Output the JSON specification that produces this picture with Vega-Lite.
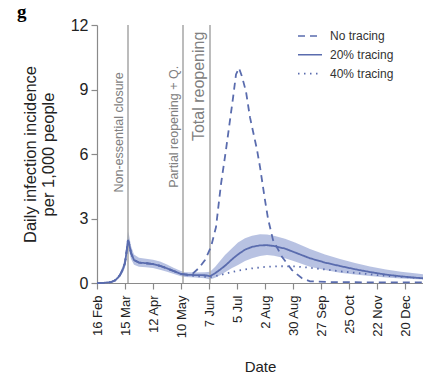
{
  "$schema": "https://vega.github.io/schema/vega-lite/v6.json",
  "width": 326,
  "height": 258,
  "autosize": {"type": "none"},
  "padding": {"left": 97, "top": 25, "right": 0, "bottom": 92},
  "background": "white",
  "title": {"text": "g", "anchor": "start", "frame": "group", "font": "Liberation Serif", "fontSize": 19, "fontWeight": "bold", "color": "#000000", "dx": -80, "dy": 22, "offset": 2, "baseline": "alphabetic"},
  "config": {
    "view": {"stroke": null},
    "font": "Liberation Sans",
    "axis": {"domainColor": "#8a8a8a", "tickColor": "#8a8a8a", "labelColor": "#222222", "titleColor": "#222222", "grid": false, "titleFontWeight": "normal", "domainWidth": 1.2, "tickWidth": 1.2, "tickSize": 6},
    "axisY": {"labelFontSize": 16, "titleFontSize": 16.5, "labelPadding": 3, "titleLineHeight": 18, "titlePadding": 14}
  },
  "datasets": {
    "curves": [
      {"scenario": "No tracing", "date": "2020-02-16", "value": 0},
      {"scenario": "No tracing", "date": "2020-02-23", "value": 0.01},
      {"scenario": "No tracing", "date": "2020-03-01", "value": 0.04},
      {"scenario": "No tracing", "date": "2020-03-05", "value": 0.12},
      {"scenario": "No tracing", "date": "2020-03-08", "value": 0.25},
      {"scenario": "No tracing", "date": "2020-03-10", "value": 0.37},
      {"scenario": "No tracing", "date": "2020-03-13", "value": 0.65},
      {"scenario": "No tracing", "date": "2020-03-15", "value": 0.93},
      {"scenario": "No tracing", "date": "2020-03-17", "value": 1.6},
      {"scenario": "No tracing", "date": "2020-03-18", "value": 2.0},
      {"scenario": "No tracing", "date": "2020-03-19", "value": 1.85},
      {"scenario": "No tracing", "date": "2020-03-21", "value": 1.4},
      {"scenario": "No tracing", "date": "2020-03-24", "value": 1.07},
      {"scenario": "No tracing", "date": "2020-03-29", "value": 0.95},
      {"scenario": "No tracing", "date": "2020-04-05", "value": 0.92},
      {"scenario": "No tracing", "date": "2020-04-12", "value": 0.88},
      {"scenario": "No tracing", "date": "2020-04-19", "value": 0.8},
      {"scenario": "No tracing", "date": "2020-04-26", "value": 0.68},
      {"scenario": "No tracing", "date": "2020-05-03", "value": 0.55},
      {"scenario": "No tracing", "date": "2020-05-10", "value": 0.42},
      {"scenario": "No tracing", "date": "2020-05-17", "value": 0.4},
      {"scenario": "No tracing", "date": "2020-05-22", "value": 0.45},
      {"scenario": "No tracing", "date": "2020-05-28", "value": 0.7},
      {"scenario": "No tracing", "date": "2020-06-03", "value": 1.07},
      {"scenario": "No tracing", "date": "2020-06-09", "value": 1.68},
      {"scenario": "No tracing", "date": "2020-06-14", "value": 2.6},
      {"scenario": "No tracing", "date": "2020-06-19", "value": 4.6},
      {"scenario": "No tracing", "date": "2020-06-24", "value": 6.2},
      {"scenario": "No tracing", "date": "2020-07-01", "value": 8.6},
      {"scenario": "No tracing", "date": "2020-07-04", "value": 9.7},
      {"scenario": "No tracing", "date": "2020-07-07", "value": 10.0},
      {"scenario": "No tracing", "date": "2020-07-10", "value": 9.6},
      {"scenario": "No tracing", "date": "2020-07-14", "value": 8.9},
      {"scenario": "No tracing", "date": "2020-07-18", "value": 7.7},
      {"scenario": "No tracing", "date": "2020-07-25", "value": 6.2},
      {"scenario": "No tracing", "date": "2020-07-28", "value": 5.4},
      {"scenario": "No tracing", "date": "2020-08-02", "value": 3.85},
      {"scenario": "No tracing", "date": "2020-08-05", "value": 3.0},
      {"scenario": "No tracing", "date": "2020-08-10", "value": 2.0},
      {"scenario": "No tracing", "date": "2020-08-19", "value": 1.22},
      {"scenario": "No tracing", "date": "2020-08-29", "value": 0.6},
      {"scenario": "No tracing", "date": "2020-09-08", "value": 0.22},
      {"scenario": "No tracing", "date": "2020-09-16", "value": 0.08},
      {"scenario": "No tracing", "date": "2020-10-09", "value": 0.04},
      {"scenario": "No tracing", "date": "2020-11-22", "value": 0.03},
      {"scenario": "No tracing", "date": "2021-01-07", "value": 0.03},
      {"scenario": "20% tracing", "date": "2020-02-16", "value": 0},
      {"scenario": "20% tracing", "date": "2020-02-23", "value": 0.01},
      {"scenario": "20% tracing", "date": "2020-03-01", "value": 0.04},
      {"scenario": "20% tracing", "date": "2020-03-05", "value": 0.12},
      {"scenario": "20% tracing", "date": "2020-03-08", "value": 0.25},
      {"scenario": "20% tracing", "date": "2020-03-10", "value": 0.37},
      {"scenario": "20% tracing", "date": "2020-03-13", "value": 0.65},
      {"scenario": "20% tracing", "date": "2020-03-15", "value": 0.93},
      {"scenario": "20% tracing", "date": "2020-03-17", "value": 1.6},
      {"scenario": "20% tracing", "date": "2020-03-18", "value": 2.0},
      {"scenario": "20% tracing", "date": "2020-03-19", "value": 1.85},
      {"scenario": "20% tracing", "date": "2020-03-21", "value": 1.4},
      {"scenario": "20% tracing", "date": "2020-03-24", "value": 1.07},
      {"scenario": "20% tracing", "date": "2020-03-29", "value": 0.95},
      {"scenario": "20% tracing", "date": "2020-04-05", "value": 0.92},
      {"scenario": "20% tracing", "date": "2020-04-12", "value": 0.88},
      {"scenario": "20% tracing", "date": "2020-04-19", "value": 0.8},
      {"scenario": "20% tracing", "date": "2020-04-26", "value": 0.68},
      {"scenario": "20% tracing", "date": "2020-05-03", "value": 0.55},
      {"scenario": "20% tracing", "date": "2020-05-10", "value": 0.42},
      {"scenario": "20% tracing", "date": "2020-05-14", "value": 0.38},
      {"scenario": "20% tracing", "date": "2020-05-24", "value": 0.37},
      {"scenario": "20% tracing", "date": "2020-06-03", "value": 0.36},
      {"scenario": "20% tracing", "date": "2020-06-08", "value": 0.32},
      {"scenario": "20% tracing", "date": "2020-06-13", "value": 0.45},
      {"scenario": "20% tracing", "date": "2020-06-18", "value": 0.62},
      {"scenario": "20% tracing", "date": "2020-06-23", "value": 0.8},
      {"scenario": "20% tracing", "date": "2020-06-30", "value": 1.1},
      {"scenario": "20% tracing", "date": "2020-07-06", "value": 1.33},
      {"scenario": "20% tracing", "date": "2020-07-13", "value": 1.55},
      {"scenario": "20% tracing", "date": "2020-07-20", "value": 1.68},
      {"scenario": "20% tracing", "date": "2020-07-28", "value": 1.75},
      {"scenario": "20% tracing", "date": "2020-08-04", "value": 1.76},
      {"scenario": "20% tracing", "date": "2020-08-11", "value": 1.72},
      {"scenario": "20% tracing", "date": "2020-08-22", "value": 1.6},
      {"scenario": "20% tracing", "date": "2020-09-01", "value": 1.42},
      {"scenario": "20% tracing", "date": "2020-09-16", "value": 1.15},
      {"scenario": "20% tracing", "date": "2020-10-01", "value": 0.95},
      {"scenario": "20% tracing", "date": "2020-10-16", "value": 0.79},
      {"scenario": "20% tracing", "date": "2020-10-31", "value": 0.64},
      {"scenario": "20% tracing", "date": "2020-11-15", "value": 0.51},
      {"scenario": "20% tracing", "date": "2020-12-01", "value": 0.39},
      {"scenario": "20% tracing", "date": "2020-12-16", "value": 0.31},
      {"scenario": "20% tracing", "date": "2021-01-01", "value": 0.24},
      {"scenario": "20% tracing", "date": "2021-01-07", "value": 0.22},
      {"scenario": "40% tracing", "date": "2020-02-16", "value": 0},
      {"scenario": "40% tracing", "date": "2020-02-23", "value": 0.01},
      {"scenario": "40% tracing", "date": "2020-03-01", "value": 0.04},
      {"scenario": "40% tracing", "date": "2020-03-05", "value": 0.12},
      {"scenario": "40% tracing", "date": "2020-03-08", "value": 0.25},
      {"scenario": "40% tracing", "date": "2020-03-10", "value": 0.37},
      {"scenario": "40% tracing", "date": "2020-03-13", "value": 0.65},
      {"scenario": "40% tracing", "date": "2020-03-15", "value": 0.93},
      {"scenario": "40% tracing", "date": "2020-03-17", "value": 1.6},
      {"scenario": "40% tracing", "date": "2020-03-18", "value": 2.0},
      {"scenario": "40% tracing", "date": "2020-03-19", "value": 1.85},
      {"scenario": "40% tracing", "date": "2020-03-21", "value": 1.4},
      {"scenario": "40% tracing", "date": "2020-03-24", "value": 1.07},
      {"scenario": "40% tracing", "date": "2020-03-29", "value": 0.95},
      {"scenario": "40% tracing", "date": "2020-04-05", "value": 0.92},
      {"scenario": "40% tracing", "date": "2020-04-12", "value": 0.88},
      {"scenario": "40% tracing", "date": "2020-04-19", "value": 0.8},
      {"scenario": "40% tracing", "date": "2020-04-26", "value": 0.68},
      {"scenario": "40% tracing", "date": "2020-05-03", "value": 0.55},
      {"scenario": "40% tracing", "date": "2020-05-10", "value": 0.42},
      {"scenario": "40% tracing", "date": "2020-05-17", "value": 0.35},
      {"scenario": "40% tracing", "date": "2020-05-31", "value": 0.3},
      {"scenario": "40% tracing", "date": "2020-06-08", "value": 0.27},
      {"scenario": "40% tracing", "date": "2020-06-16", "value": 0.35},
      {"scenario": "40% tracing", "date": "2020-06-25", "value": 0.45},
      {"scenario": "40% tracing", "date": "2020-07-06", "value": 0.58},
      {"scenario": "40% tracing", "date": "2020-07-20", "value": 0.68},
      {"scenario": "40% tracing", "date": "2020-08-02", "value": 0.75},
      {"scenario": "40% tracing", "date": "2020-08-17", "value": 0.78},
      {"scenario": "40% tracing", "date": "2020-09-01", "value": 0.77},
      {"scenario": "40% tracing", "date": "2020-09-14", "value": 0.72},
      {"scenario": "40% tracing", "date": "2020-10-01", "value": 0.63},
      {"scenario": "40% tracing", "date": "2020-10-19", "value": 0.53},
      {"scenario": "40% tracing", "date": "2020-11-05", "value": 0.45},
      {"scenario": "40% tracing", "date": "2020-11-22", "value": 0.37},
      {"scenario": "40% tracing", "date": "2020-12-08", "value": 0.31},
      {"scenario": "40% tracing", "date": "2020-12-25", "value": 0.26},
      {"scenario": "40% tracing", "date": "2021-01-07", "value": 0.23}
    ],
    "band": [
      {"date": "2020-02-16", "lo": 0, "hi": 0},
      {"date": "2020-03-01", "lo": 0.03, "hi": 0.06},
      {"date": "2020-03-05", "lo": 0.09, "hi": 0.16},
      {"date": "2020-03-08", "lo": 0.19, "hi": 0.33},
      {"date": "2020-03-10", "lo": 0.28, "hi": 0.48},
      {"date": "2020-03-13", "lo": 0.5, "hi": 0.82},
      {"date": "2020-03-15", "lo": 0.72, "hi": 1.2},
      {"date": "2020-03-17", "lo": 1.3, "hi": 2.05},
      {"date": "2020-03-18", "lo": 1.65, "hi": 2.4},
      {"date": "2020-03-19", "lo": 1.5, "hi": 2.25},
      {"date": "2020-03-21", "lo": 1.12, "hi": 1.72},
      {"date": "2020-03-24", "lo": 0.85, "hi": 1.32},
      {"date": "2020-03-29", "lo": 0.76, "hi": 1.18},
      {"date": "2020-04-05", "lo": 0.73, "hi": 1.13},
      {"date": "2020-04-12", "lo": 0.7, "hi": 1.08},
      {"date": "2020-04-19", "lo": 0.62, "hi": 1.0},
      {"date": "2020-04-26", "lo": 0.52, "hi": 0.86},
      {"date": "2020-05-03", "lo": 0.42, "hi": 0.7},
      {"date": "2020-05-10", "lo": 0.31, "hi": 0.56},
      {"date": "2020-05-14", "lo": 0.28, "hi": 0.5},
      {"date": "2020-05-24", "lo": 0.26, "hi": 0.49},
      {"date": "2020-06-03", "lo": 0.22, "hi": 0.5},
      {"date": "2020-06-08", "lo": 0.16, "hi": 0.52},
      {"date": "2020-06-13", "lo": 0.24, "hi": 0.75},
      {"date": "2020-06-18", "lo": 0.36, "hi": 1.02},
      {"date": "2020-06-23", "lo": 0.5, "hi": 1.3},
      {"date": "2020-06-30", "lo": 0.7, "hi": 1.62},
      {"date": "2020-07-06", "lo": 0.84, "hi": 1.88},
      {"date": "2020-07-13", "lo": 1.02, "hi": 2.08},
      {"date": "2020-07-20", "lo": 1.15, "hi": 2.2},
      {"date": "2020-07-28", "lo": 1.26, "hi": 2.27},
      {"date": "2020-08-04", "lo": 1.3, "hi": 2.26},
      {"date": "2020-08-11", "lo": 1.27, "hi": 2.2},
      {"date": "2020-08-22", "lo": 1.15, "hi": 2.06},
      {"date": "2020-09-01", "lo": 1.0, "hi": 1.88},
      {"date": "2020-09-16", "lo": 0.76, "hi": 1.58},
      {"date": "2020-10-01", "lo": 0.6, "hi": 1.33},
      {"date": "2020-10-16", "lo": 0.48, "hi": 1.12},
      {"date": "2020-10-31", "lo": 0.39, "hi": 0.93},
      {"date": "2020-11-15", "lo": 0.32, "hi": 0.77},
      {"date": "2020-12-01", "lo": 0.26, "hi": 0.63},
      {"date": "2020-12-16", "lo": 0.21, "hi": 0.52},
      {"date": "2021-01-01", "lo": 0.17, "hi": 0.44},
      {"date": "2021-01-07", "lo": 0.16, "hi": 0.41}
    ],
    "events": [
      {"date": "2020-03-18", "label": "Non-essential closure"},
      {"date": "2020-05-12", "label": "Partial reopening + Q."},
      {"date": "2020-06-08", "label": "Total reopening"}
    ]
  },
  "encoding": {
    "x": {
      "field": "date",
      "type": "temporal",
      "scale": {"type": "utc", "domain": [{"year": 2020, "month": 2, "date": 16, "utc": true}, {"year": 2021, "month": 1, "date": 7, "utc": true}]},
      "axis": {
        "title": "Date",
        "values": [
          {"year": 2020, "month": 2, "date": 16, "utc": true},
          {"year": 2020, "month": 3, "date": 15, "utc": true},
          {"year": 2020, "month": 4, "date": 12, "utc": true},
          {"year": 2020, "month": 5, "date": 10, "utc": true},
          {"year": 2020, "month": 6, "date": 7, "utc": true},
          {"year": 2020, "month": 7, "date": 5, "utc": true},
          {"year": 2020, "month": 8, "date": 2, "utc": true},
          {"year": 2020, "month": 8, "date": 30, "utc": true},
          {"year": 2020, "month": 9, "date": 27, "utc": true},
          {"year": 2020, "month": 10, "date": 25, "utc": true},
          {"year": 2020, "month": 11, "date": 22, "utc": true},
          {"year": 2020, "month": 12, "date": 20, "utc": true}
        ],
        "labelExpr": "utcFormat(datum.value, '%-d %b')",
        "labelAngle": 270,
        "labelFontSize": 13,
        "labelPadding": 6,
        "labelFlush": false,
        "labelOverlap": false,
        "titleFontSize": 15,
        "titlePadding": 22
      }
    }
  },
  "layer": [
    {
      "data": {"name": "band"},
      "mark": {"type": "area", "color": "#7d8fcb", "opacity": 0.55},
      "encoding": {
        "y": {"field": "lo", "type": "quantitative", "scale": {"domain": [0, 12], "nice": false},
          "axis": {"title": ["Daily infection incidence", "per 1,000 people"], "values": [0, 3, 6, 9, 12], "labelFontSize": 16, "labelPadding": 3, "titleFontSize": 16.5, "titleLineHeight": 18, "titlePadding": 14}},
        "y2": {"field": "hi"}
      }
    },
    {
      "data": {"name": "events"},
      "mark": {"type": "rule", "color": "#a6a6a6", "strokeWidth": 1.5},
      "encoding": {}
    },
    {
      "data": {"name": "curves"},
      "mark": {"type": "line", "color": "#5a6cae", "strokeWidth": 1.8},
      "encoding": {
        "y": {"field": "value", "type": "quantitative", "scale": {"domain": [0, 12], "nice": false},
          "axis": {"title": ["Daily infection incidence", "per 1,000 people"], "values": [0, 3, 6, 9, 12], "labelFontSize": 16, "labelPadding": 3, "titleFontSize": 16.5, "titleLineHeight": 18, "titlePadding": 14}},
        "strokeDash": {
          "field": "scenario",
          "type": "nominal",
          "scale": {"domain": ["No tracing", "20% tracing", "40% tracing"], "range": [[7, 5], [1, 0], [1.5, 4.5]]},
          "legend": {
            "title": null,
            "orient": "none",
            "legendX": 204,
            "legendY": 2,
            "padding": 0,
            "symbolType": "M-1.5,0L1.5,0",
            "symbolSize": 256,
            "symbolStrokeWidth": 1.6,
            "symbolStrokeColor": "#5a6cae",
            "labelFontSize": 12,
            "labelColor": "#333333",
            "labelOffset": 11,
            "rowPadding": 3.8
          }
        }
      }
    },
    {
      "data": {"name": "events"},
      "transform": [{"filter": "datum.label === 'Non-essential closure'"}],
      "mark": {"type": "text", "angle": 270, "align": "right", "baseline": "alphabetic", "dy": -5, "fontSize": 12.5, "color": "#808080"},
      "encoding": {"y": {"datum": 9.8, "type": "quantitative",
          "axis": {"title": ["Daily infection incidence", "per 1,000 people"], "values": [0, 3, 6, 9, 12], "labelFontSize": 16, "labelPadding": 3, "titleFontSize": 16.5, "titleLineHeight": 18, "titlePadding": 14}}, "text": {"field": "label"}}
    },
    {
      "data": {"name": "events"},
      "transform": [{"filter": "datum.label === 'Partial reopening + Q.'"}],
      "mark": {"type": "text", "angle": 270, "align": "right", "baseline": "alphabetic", "dy": -5, "fontSize": 12.5, "color": "#808080"},
      "encoding": {"y": {"datum": 10.1, "type": "quantitative",
          "axis": {"title": ["Daily infection incidence", "per 1,000 people"], "values": [0, 3, 6, 9, 12], "labelFontSize": 16, "labelPadding": 3, "titleFontSize": 16.5, "titleLineHeight": 18, "titlePadding": 14}}, "text": {"field": "label"}}
    },
    {
      "data": {"name": "events"},
      "transform": [{"filter": "datum.label === 'Total reopening'"}],
      "mark": {"type": "text", "angle": 270, "align": "right", "baseline": "alphabetic", "dy": -6, "fontSize": 16, "color": "#808080"},
      "encoding": {"y": {"datum": 11.69, "type": "quantitative",
          "axis": {"title": ["Daily infection incidence", "per 1,000 people"], "values": [0, 3, 6, 9, 12], "labelFontSize": 16, "labelPadding": 3, "titleFontSize": 16.5, "titleLineHeight": 18, "titlePadding": 14}}, "text": {"field": "label"}}
    }
  ]
}
